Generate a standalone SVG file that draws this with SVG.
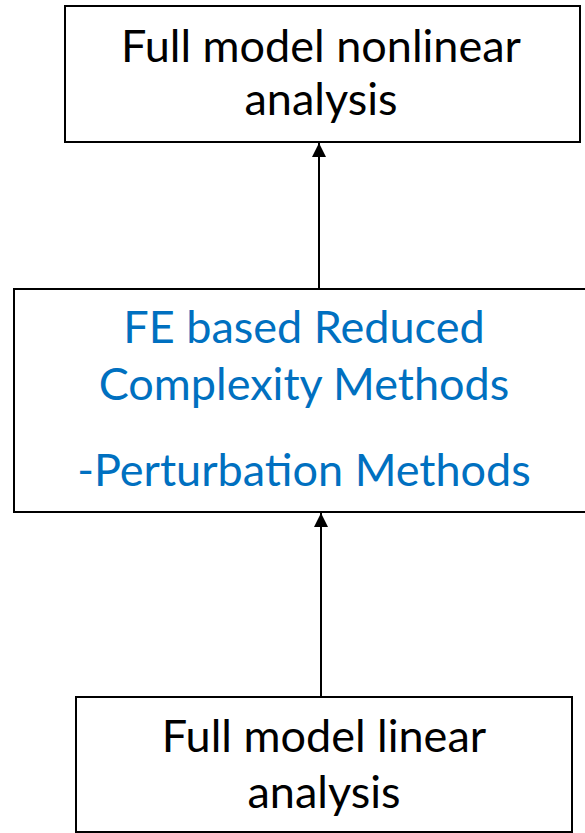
<svg xmlns="http://www.w3.org/2000/svg" width="585" height="833" viewBox="0 0 585 833">
<style>
.box{fill:#fff;stroke:#000;stroke-width:2}
.t{font-family:Lato,"Liberation Sans",sans-serif;font-size:45px;text-anchor:middle;fill:#000}
.b{fill:#0070C0}
.c{stroke:#000;stroke-width:2;fill:none}
</style>
<defs>
<marker id="ah" viewBox="0 0 10 10" refX="10" refY="5" markerWidth="7" markerHeight="7" orient="auto" markerUnits="strokeWidth">
<path d="M0,0 L10,5 L0,10 z" fill="#000"/>
</marker>
</defs>
<rect width="585" height="833" fill="#fff"/>
<g id="connectors">
<line class="c" x1="319" y1="289" x2="319" y2="143" marker-end="url(#ah)"/>
<line class="c" x1="321" y1="697" x2="321" y2="513" marker-end="url(#ah)"/>
</g>
<g id="node-nonlinear">
<rect class="box" x="65" y="6" width="515" height="136"/>
<text class="t" x="321" y="62">Full model nonlinear</text>
<text class="t" x="321" y="115">analysis</text>
</g>
<g id="node-reduced">
<rect class="box" x="14" y="289" width="580" height="223"/>
<text class="t b" x="304" y="343">FE based Reduced</text>
<text class="t b" x="304" y="400">Complexity Methods</text>
<text class="t b" x="304" y="486">-Perturbation Methods</text>
</g>
<g id="node-linear">
<rect class="box" x="76" y="697" width="496" height="135"/>
<text class="t" x="324" y="752">Full model linear</text>
<text class="t" x="324" y="808">analysis</text>
</g>
</svg>
